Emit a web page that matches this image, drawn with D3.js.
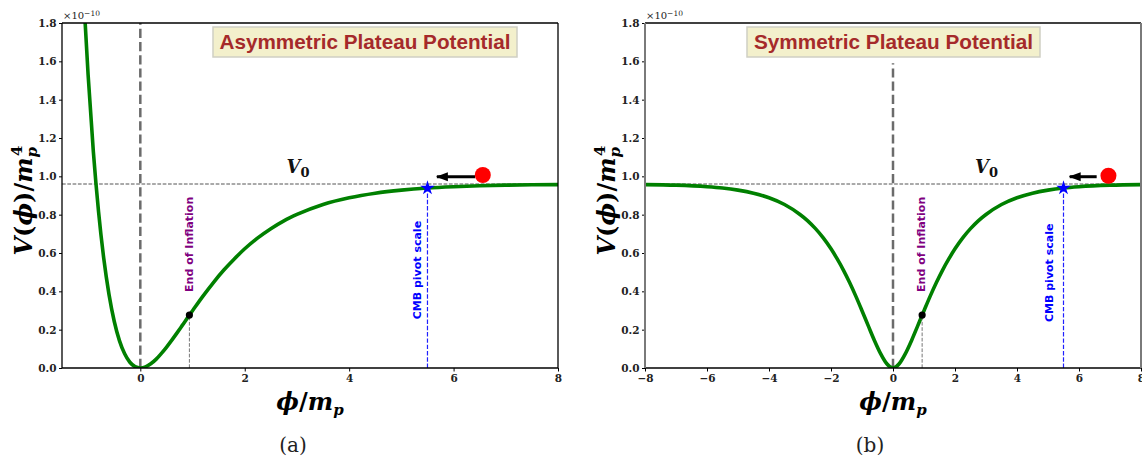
<!DOCTYPE html>
<html>
<head>
<meta charset="utf-8">
<script src="https://cdn.jsdelivr.net/npm/d3@7"></script>
<style>
  body { margin: 0; background: #fff; }
  svg { display: block; }
</style>
</head>
<body>
<svg id="fig" width="1142" height="460"></svg>
<script>
// ---------------- data (V in units of 1e-10 m_p^4) ----------------
const asymPhi = [-1.06, -1.0, -0.9, -0.8, -0.7, -0.6, -0.5, -0.4, -0.3, -0.2, -0.1, 0,
  0.1, 0.2, 0.3, 0.4, 0.5, 0.6, 0.7, 0.8, 0.94, 1.0, 1.2, 1.4, 1.6, 1.8, 2.0, 2.25,
  2.5, 2.75, 3.0, 3.5, 4.0, 4.5, 5.0, 5.5, 6.0, 6.5, 7.0, 7.5, 8.0];
const asymV = [1.818, 1.530, 1.130, 0.816, 0.571, 0.384, 0.244, 0.143, 0.074, 0.030, 0.007, 0,
  0.006, 0.022, 0.045, 0.075, 0.108, 0.144, 0.182, 0.221, 0.276, 0.299, 0.375, 0.446, 0.511, 0.569, 0.622, 0.679,
  0.727, 0.768, 0.801, 0.853, 0.888, 0.912, 0.928, 0.939, 0.946, 0.951, 0.954, 0.956, 0.957];

const symPhi = [-8, -7, -6, -5.5, -5, -4.5, -4, -3.5, -3, -2.75, -2.5, -2.25, -2, -1.8, -1.6,
  -1.4, -1.2, -1.0, -0.8, -0.6, -0.4, -0.2, 0, 0.2, 0.4, 0.6, 0.8, 0.94, 1.0, 1.2, 1.4,
  1.6, 1.8, 2.0, 2.25, 2.5, 2.75, 3.0, 3.5, 4.0, 4.5, 5.0, 5.5, 6.0, 7.0, 8.0];
const symV = [0.957, 0.954, 0.946, 0.939, 0.928, 0.912, 0.888, 0.853, 0.801, 0.768, 0.727, 0.679, 0.622, 0.569, 0.511,
  0.446, 0.375, 0.299, 0.221, 0.144, 0.075, 0.022, 0, 0.022, 0.075, 0.144, 0.221, 0.276, 0.299, 0.375, 0.446,
  0.511, 0.569, 0.622, 0.679, 0.727, 0.768, 0.801, 0.853, 0.888, 0.912, 0.928, 0.939, 0.946, 0.954, 0.957];

const yTicks = [0.0, 0.2, 0.4, 0.6, 0.8, 1.0, 1.2, 1.4, 1.6, 1.8];
const asymXTicks = [0, 2, 4, 6, 8];
const symXTicks = [-8, -6, -4, -2, 0, 2, 4, 6, 8];

const plateauV0 = 0.96;
const endPhi = [0.94, 0.94];
const endV = [0.276, 0.276];
const pivotPhi = [5.5, 5.5];
const pivotV = [0.939, 0.939];
const ballPhi = [6.56, 6.95];
const ballV = [1.007, 1.003];
const arrowFromPhi = [6.41, 6.57];
const arrowToPhi = [5.68, 5.70];
const arrowV = [0.998, 0.998];
const v0LabelPhi = [3.02, 3.02];
const v0LabelV = [1.015, 1.015];
const endLabelPhi = [0.94, 0.93];
const endLabelV = [0.397, 0.397];
const pivotLabelPhi = [5.30, 5.06];
const pivotLabelV = [0.254, 0.24];
const zeroLineTop = [1.8, 1.59];

const panelTitles = ["Asymmetric Plateau Potential", "Symmetric Plateau Potential"];
const captions = ["(a)", "(b)"];

// ---------------- layout ----------------
const svg = d3.select("#fig");
const panels = [
  { left: 62, right: 558, top: 23, bottom: 368, xDomain: [-1.5, 8], xTicks: asymXTicks,
    phi: asymPhi, V: asymV, box: { x: 151, w: 304, textW: 291 }, captionX: 293, sideSpine: "#000", sideW: 1.3 },
  { left: 645, right: 1141, top: 23, bottom: 368, xDomain: [-8, 8], xTicks: symXTicks,
    phi: symPhi, V: symV, box: { x: 102, w: 293, textW: 279 }, captionX: 870, sideSpine: "#7a7a7a", sideW: 2 }
];

const defs = svg.append("defs");
defs.append("marker")
  .attr("id", "arrowhead")
  .attr("markerUnits", "userSpaceOnUse")
  .attr("viewBox", "0 0 12 10")
  .attr("refX", 11).attr("refY", 5)
  .attr("markerWidth", 12).attr("markerHeight", 10)
  .attr("orient", "auto")
  .append("path").attr("d", "M0,0.5 L12,5 L0,9.5 Z").attr("fill", "#000");

const minus = v => (v < 0 ? "\u2212" + Math.abs(v) : String(v));
const mathFont = "'DejaVu Serif', 'Liberation Serif', serif";

panels.forEach((p, i) => {
  const x = d3.scaleLinear().domain(p.xDomain).range([p.left, p.right]);
  const y = d3.scaleLinear().domain([0, 1.8]).range([p.bottom, p.top]);
  const g = svg.append("g");

  const clipId = "clip" + i;
  defs.append("clipPath").attr("id", clipId)
    .append("rect").attr("x", p.left).attr("y", p.top)
    .attr("width", p.right - p.left).attr("height", p.bottom - p.top);

  // plateau level
  g.append("line")
    .attr("x1", p.left).attr("x2", p.right)
    .attr("y1", y(plateauV0)).attr("y2", y(plateauV0))
    .attr("stroke", "#555").attr("stroke-width", 1).attr("stroke-dasharray", "3.7,1.6");

  // phi = 0 reference line
  g.append("line")
    .attr("x1", x(0)).attr("x2", x(0))
    .attr("y1", y(0)).attr("y2", y(zeroLineTop[i]))
    .attr("stroke", "#6b6b6b").attr("stroke-width", 2.5).attr("stroke-dasharray", "9.2,4");

  // potential curve
  const line = d3.line().x(d => x(d[0])).y(d => y(d[1])).curve(d3.curveMonotoneX);
  g.append("path")
    .datum(d3.zip(p.phi, p.V))
    .attr("clip-path", `url(#${clipId})`)
    .attr("d", line)
    .attr("fill", "none").attr("stroke", "#008000").attr("stroke-width", 3.6)
    .attr("stroke-linejoin", "round");

  // end of inflation marker
  g.append("line")
    .attr("x1", x(endPhi[i])).attr("x2", x(endPhi[i]))
    .attr("y1", y(0)).attr("y2", y(endV[i]))
    .attr("stroke", "#777").attr("stroke-width", 1).attr("stroke-dasharray", "3.7,1.6");
  g.append("circle")
    .attr("cx", x(endPhi[i])).attr("cy", y(endV[i])).attr("r", 3.6).attr("fill", "#000");

  // CMB pivot marker
  g.append("line")
    .attr("x1", x(pivotPhi[i])).attr("x2", x(pivotPhi[i]))
    .attr("y1", y(0)).attr("y2", y(pivotV[i]))
    .attr("stroke", "#2020ff").attr("stroke-width", 1.2).attr("stroke-dasharray", "4.4,1.9");
  g.append("path")
    .attr("transform", `translate(${x(pivotPhi[i])},${y(pivotV[i])})`)
    .attr("d", d3.symbol(d3.symbolStar).size(66)())
    .attr("fill", "#0000ff");

  // rolling ball and direction arrow
  g.append("line")
    .attr("x1", x(arrowFromPhi[i])).attr("x2", x(arrowToPhi[i]))
    .attr("y1", y(arrowV[i])).attr("y2", y(arrowV[i]))
    .attr("stroke", "#000").attr("stroke-width", 3)
    .attr("marker-end", "url(#arrowhead)");
  g.append("circle")
    .attr("cx", x(ballPhi[i])).attr("cy", y(ballV[i])).attr("r", 8).attr("fill", "#ff0000");

  // V0 label
  const v0 = g.append("text")
    .attr("x", x(v0LabelPhi[i])).attr("y", y(v0LabelV[i]))
    .attr("text-anchor", "middle")
    .style("font-family", mathFont)
    .style("font-size", "18px").style("font-weight", "bold").style("font-style", "italic")
    .attr("fill", "#111");
  v0.append("tspan").text("V");
  v0.append("tspan").attr("dy", 4).style("font-size", "13px").style("font-style", "normal").text("0");

  // rotated annotations
  g.append("text")
    .attr("transform", `translate(${x(endLabelPhi[i])},${y(endLabelV[i])}) rotate(-90)`)
    .attr("dominant-baseline", "central")
    .style("font-family", "'DejaVu Sans', sans-serif").style("font-size", "11px").style("font-weight", "bold")
    .attr("fill", "#800080").text("End of Inflation");
  g.append("text")
    .attr("transform", `translate(${x(pivotLabelPhi[i])},${y(pivotLabelV[i])}) rotate(-90)`)
    .attr("dominant-baseline", "central")
    .style("font-family", "'DejaVu Sans', sans-serif").style("font-size", "11px").style("font-weight", "bold")
    .attr("fill", "#0000ff").text("CMB pivot scale");

  // title box
  const bx = p.left + p.box.x, by = p.top + 4, bh = 30;
  g.append("rect")
    .attr("x", bx).attr("y", by).attr("width", p.box.w).attr("height", bh)
    .attr("fill", "#f3f0cc").attr("stroke", "#cfcfc4").attr("stroke-width", 1.5);
  g.append("text")
    .attr("x", bx + p.box.w / 2).attr("y", by + bh / 2 + 7)
    .attr("text-anchor", "middle")
    .attr("textLength", p.box.textW).attr("lengthAdjust", "spacingAndGlyphs")
    .style("font-family", "'Liberation Sans', Arial, sans-serif").style("font-size", "20.5px").style("font-weight", "bold")
    .attr("fill", "#a52a2a").text(panelTitles[i]);

  // axes
  const xAxis = d3.axisBottom(x).tickValues(p.xTicks).tickFormat(minus)
    .tickSizeInner(3.5).tickSizeOuter(0).tickPadding(3);
  const yAxis = d3.axisLeft(y).tickValues(yTicks).tickFormat(d3.format(".1f"))
    .tickSizeInner(3).tickSizeOuter(0).tickPadding(2.5);
  const axStyle = sel => {
    sel.select(".domain").remove();
    sel.selectAll(".tick line").attr("stroke", "#000").attr("stroke-width", 1);
    sel.selectAll(".tick text")
      .style("font-family", "'DejaVu Serif', serif").style("font-size", "10.5px").style("font-weight", "bold")
      .attr("fill", "#222");
  };
  g.append("g").attr("transform", `translate(0,${p.bottom})`).call(xAxis).call(axStyle);
  g.append("g").attr("transform", `translate(${p.left},0)`).call(yAxis).call(axStyle);

  // spines
  g.append("line").attr("x1", p.left).attr("x2", p.right).attr("y1", p.top).attr("y2", p.top)
    .attr("stroke", "#000").attr("stroke-width", 1.3);
  g.append("line").attr("x1", p.left).attr("x2", p.right).attr("y1", p.bottom).attr("y2", p.bottom)
    .attr("stroke", "#000").attr("stroke-width", 1.3);
  [p.left, p.right].forEach(sx => {
    g.append("line").attr("x1", sx).attr("x2", sx).attr("y1", p.top).attr("y2", p.bottom)
      .attr("stroke", p.sideSpine).attr("stroke-width", p.sideW);
  });

  // scale factor
  const sf = g.append("text").attr("x", p.left + 1).attr("y", p.top - 4)
    .style("font-family", "'DejaVu Serif', serif").style("font-size", "10px").attr("fill", "#222");
  sf.append("tspan").text("\u00d710");
  sf.append("tspan").attr("dy", -3.5).style("font-size", "7.5px").text("\u221210");

  // axis titles
  const cy = (p.top + p.bottom) / 2 + 5;
  const yl = g.append("text")
    .attr("transform", `translate(${p.left - 30},${cy}) rotate(-90)`)
    .attr("text-anchor", "middle")
    .style("font-family", mathFont)
    .style("font-size", "24px").style("font-weight", "bold").style("font-style", "italic")
    .attr("fill", "#000");
  yl.append("tspan").text("V");
  yl.append("tspan").style("font-style", "normal").text("(");
  yl.append("tspan").text("\u03d5");
  yl.append("tspan").style("font-style", "normal").text(")/");
  yl.append("tspan").text("m");
  yl.append("tspan").attr("dy", 5).style("font-size", "15px").text("p");
  yl.append("tspan").attr("dx", -9).attr("dy", -15).style("font-size", "15px").style("font-style", "normal").text("4");

  const xl = g.append("text")
    .attr("x", (p.left + p.right) / 2).attr("y", 410)
    .attr("text-anchor", "middle")
    .style("font-family", mathFont)
    .style("font-size", "24px").style("font-weight", "bold").style("font-style", "italic")
    .attr("fill", "#000");
  xl.append("tspan").text("\u03d5");
  xl.append("tspan").style("font-style", "normal").text("/");
  xl.append("tspan").text("m");
  xl.append("tspan").attr("dy", 5).style("font-size", "15px").text("p");

  // sub-figure caption
  svg.append("text")
    .attr("x", p.captionX).attr("y", 452)
    .attr("text-anchor", "middle")
    .style("font-family", "'DejaVu Serif', serif").style("font-size", "20px")
    .attr("fill", "#222").text(captions[i]);
});
</script>
</body>
</html>
